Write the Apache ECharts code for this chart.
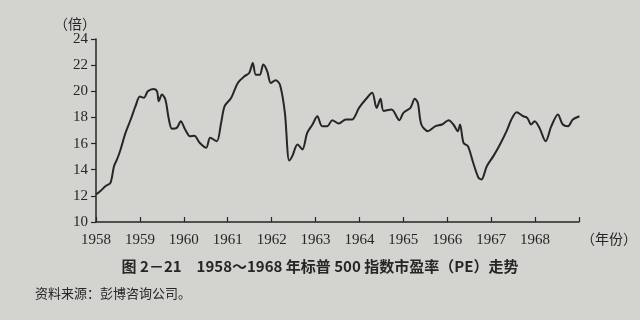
<!DOCTYPE html>
<html><head><meta charset="utf-8">
<script src="https://cdn.jsdelivr.net/npm/echarts@6/dist/echarts.min.js"></script>
<style>html,body{margin:0;padding:0;background:#d3d4cf;}#c{width:640px;height:320px;}</style>
</head><body><div id="c"></div>
<script>
const years = [1958.00,1958.10,1958.22,1958.33,1958.41,1958.48,1958.56,1958.67,1958.79,1958.90,
1959.00,1959.09,1959.18,1959.31,1959.39,1959.43,1959.50,1959.58,1959.66,1959.73,1959.84,1959.93,
1960.03,1960.14,1960.24,1960.36,1960.51,1960.60,1960.75,1960.85,1960.93,
1961.08,1961.23,1961.38,1961.49,1961.57,1961.64,1961.73,1961.81,1961.90,1961.98,
1962.09,1962.19,1962.30,1962.40,1962.47,1962.59,1962.70,1962.81,1962.93,
1963.04,1963.15,1963.27,1963.38,1963.53,1963.69,1963.83,1963.99,
1964.14,1964.29,1964.39,1964.48,1964.55,1964.73,1964.91,
1965.00,1965.16,1965.26,1965.33,1965.41,1965.56,1965.73,1965.88,
1966.03,1966.14,1966.24,1966.29,1966.37,1966.47,1966.59,1966.71,1966.78,1966.90,
1967.05,1967.20,1967.35,1967.46,1967.58,1967.73,1967.82,1967.91,1967.99,
1968.10,1968.24,1968.37,1968.52,1968.63,1968.75,1968.86,1969.01];
const pe = [12.1,12.37,12.75,13.0,14.27,14.8,15.55,16.8,17.84,18.86,
19.6,19.5,20.0,20.18,20.0,19.24,19.75,19.37,17.84,17.13,17.2,17.7,
17.08,16.56,16.6,16.06,15.68,16.44,16.18,17.6,18.86,
19.5,20.64,21.15,21.4,22.17,21.27,21.27,22.04,21.53,20.64,
20.84,20.5,18.4,14.7,15.04,15.93,15.55,16.82,17.46,
18.09,17.33,17.33,17.79,17.53,17.84,17.84,18.73,
19.37,19.88,18.73,19.42,18.5,18.6,17.79,
18.35,18.73,19.42,19.1,17.46,16.95,17.33,17.46,
17.79,17.46,16.95,17.46,16.06,15.8,14.53,13.39,13.26,14.27,
15.04,15.93,16.95,17.84,18.4,18.09,17.97,17.46,17.71,
17.2,16.18,17.33,18.22,17.46,17.33,17.84,18.09];
const xTickLabels = ['1958','1959','1960','1961','1962','1963','1964','1965','1966','1967','1968'];
const yTicks = [10,12,14,16,18,20,22,24];

const chart = echarts.init(document.getElementById('c'));
const ink = '#262626';
chart.setOption({
  backgroundColor: '#d3d4cf',
  animation: false,
  grid: {left: 96, right: 57, top: 39, bottom: 98},
  xAxis: {
    type: 'value', min: 1958, max: 1969, interval: 1,
    name: '（年份）', nameLocation: 'end', nameGap: 2,
    nameTextStyle: {color: ink, fontSize: 14, fontFamily: 'Noto Sans CJK SC', verticalAlign: 'top', padding: [10,0,0,0]},
    axisLine: {lineStyle: {color: ink, width: 1.5}},
    axisTick: {inside: true, length: 5, lineStyle: {color: ink, width: 1.2}},
    axisLabel: {color: ink, fontSize: 15, fontFamily: 'Liberation Serif', margin: 11,
      formatter: v => { const i = Math.round(v) - 1958; return xTickLabels[i] || ''; }},
    splitLine: {show: false}
  },
  yAxis: {
    type: 'value', min: yTicks[0], max: yTicks[yTicks.length-1], interval: 2,
    name: '（倍）', nameLocation: 'end', nameGap: 8,
    nameTextStyle: {color: ink, fontSize: 14, fontFamily: 'Noto Sans CJK SC', align: 'right', padding: [0,0,0,0]},
    axisLine: {show: true, lineStyle: {color: ink, width: 1.5}},
    axisTick: {show: true, length: 5, lineStyle: {color: ink, width: 1.2}},
    axisLabel: {color: ink, fontSize: 15, fontFamily: 'Liberation Serif', margin: 8},
    splitLine: {show: false}
  },
  title: [
    {text: '图 2－21　1958～1968 年标普 500 指数市盈率（PE）走势', left: 'center', top: 254,
     textStyle: {color: ink, fontSize: 15, fontWeight: 'bold', fontFamily: 'Noto Sans CJK SC'}},
    {text: '资料来源：彭博咨询公司。', left: 30, top: 282,
     textStyle: {color: ink, fontSize: 13, fontWeight: 'normal', fontFamily: 'Noto Sans CJK SC'}}
  ],
  series: [{
    type: 'line', data: years.map((y, i) => [y, pe[i]]),
    smooth: 0.3, symbol: 'none',
    lineStyle: {color: ink, width: 2}
  }]
});
</script></body></html>
